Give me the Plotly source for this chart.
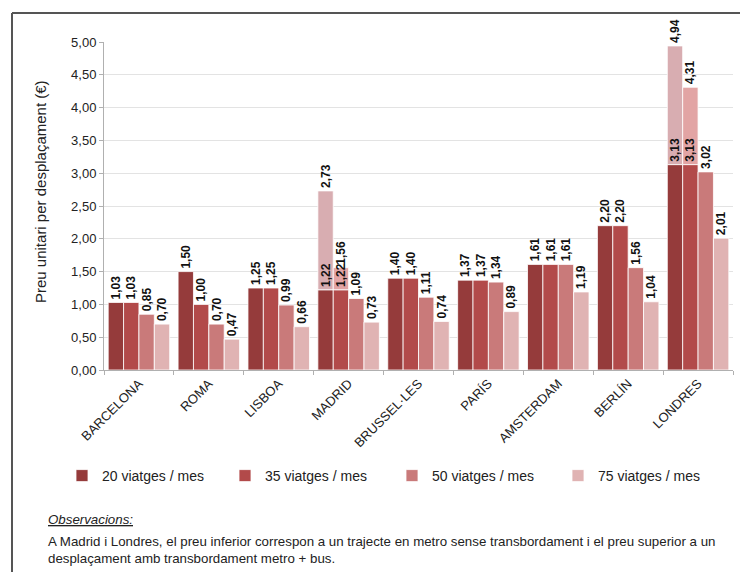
import plotly.graph_objects as go

cities = ["BARCELONA", "ROMA", "LISBOA", "MADRID", "BRUSSEL·LES", "PARÍS", "AMSTERDAM", "BERLÍN", "LONDRES"]
v20 = [1.03, 1.50, 1.25, 1.22, 1.40, 1.37, 1.61, 2.20, 3.13]
v35 = [1.03, 1.00, 1.25, 1.22, 1.40, 1.37, 1.61, 2.20, 3.13]
v50 = [0.85, 0.70, 0.99, 1.09, 1.11, 1.34, 1.61, 1.56, 3.02]
v75 = [0.70, 0.47, 0.66, 0.73, 0.74, 0.89, 1.19, 1.04, 2.01]
# upper price (with metro + bus transfer) for Madrid and Londres
up20 = [None, None, None, 2.73, None, None, None, None, 4.94]
up35 = [None, None, None, 1.56, None, None, None, None, 4.31]
series_names = ["20 viatges / mes", "35 viatges / mes", "50 viatges / mes", "75 viatges / mes"]

colors = ["#953b3b", "#b24a4a", "#c97a7a", "#e0b3b3"]
ext_colors = ["#d8adb1", "#e2a4a4"]

def fmt(v):
    return "" if v is None else f"{v:.2f}".replace(".", ",")

L, R, T, B = 104, 7, 42, 202
W, H = 740, 572
pw, ph = W - L - R, H - T - B
def px(x):
    return (x - L) / pw
def py(y):
    return (H - B - y) / ph

lab_font = dict(family="Liberation Sans, Arial", size=12, color="#111", weight="bold")
legend_names = ["legend", "legend2", "legend3", "legend4"]
legend_text_x = [102, 265, 432, 598]

fig = go.Figure()

# extension parts first so base labels are drawn above them
for i, (up, base) in enumerate([(up20, v20), (up35, v35)]):
    ext = [None if u is None else round(u - b, 2) for u, b in zip(up, base)]
    fig.add_trace(go.Bar(
        x=cities, y=ext, base=[b if u is not None else 0 for u, b in zip(up, base)],
        offsetgroup=f"g{i+1}", showlegend=False,
        marker=dict(color=ext_colors[i], line=dict(color="white", width=0.8)),
        text=[fmt(u) for u in up], textposition="outside", textangle=-90,
        textfont=lab_font, constraintext="none", cliponaxis=False, hoverinfo="skip",
    ))

for i, vals in enumerate([v20, v35, v50, v75]):
    fig.add_trace(go.Bar(
        x=cities, y=vals, name=series_names[i], offsetgroup=f"g{i+1}",
        legend=legend_names[i], showlegend=True,
        marker=dict(color=colors[i], line=dict(color="white", width=0.8)),
        text=[fmt(v) for v in vals], textposition="outside", textangle=-90,
        textfont=lab_font, constraintext="none", cliponaxis=False, hoverinfo="skip",
    ))

legend_common = dict(orientation="h", xanchor="left", yanchor="middle", y=py(476),
                     font=dict(size=14, color="#222"), itemwidth=30,
                     bgcolor="rgba(0,0,0,0)", borderwidth=0)
layout_legends = {}
for name, tx in zip(legend_names, legend_text_x):
    layout_legends[name] = dict(legend_common, x=px(tx - 40))

fig.update_layout(
    width=W, height=H,
    margin=dict(l=L, r=R, t=T, b=B, pad=0),
    paper_bgcolor="white", plot_bgcolor="white",
    barmode="group", bargap=0.12, bargroupgap=0.0,
    separators=",.",
    font=dict(family="Liberation Sans, Arial", color="#222"),
    showlegend=True,
    xaxis=dict(showline=True, linecolor="#b0b0b0", linewidth=1, ticks="outside",
               tickson="boundaries", ticklen=4, tickcolor="#b0b0b0", tickangle=-45,
               tickfont=dict(size=13, color="#222"), showgrid=False, fixedrange=True),
    yaxis=dict(range=[0, 5], dtick=0.5, tickformat=".2f", showline=True, linecolor="#b0b0b0",
               linewidth=1, ticks="outside", ticklen=4, tickcolor="#b0b0b0",
               showgrid=True, gridcolor="#e3e3e3", gridwidth=1, zeroline=False,
               tickfont=dict(size=13, color="#222"), fixedrange=True),
    **layout_legends,
)

fig.add_annotation(xref="paper", yref="paper", x=px(40), y=py(192), text="Preu unitari per desplaçament (€)",
                   textangle=-90, showarrow=False, font=dict(size=15, color="#222"),
                   xanchor="center", yanchor="middle")
fig.add_annotation(xref="paper", yref="paper", x=px(46), y=py(519), text="<i><u>Observacions:</u></i>",
                   showarrow=False, font=dict(size=13.3, color="#222"), xanchor="left", yanchor="middle")
fig.add_annotation(xref="paper", yref="paper", x=px(46), y=py(550),
                   text="A Madrid i Londres, el preu inferior correspon a un trajecte en metro sense transbordament i el preu superior a un<br>desplaçament amb transbordament metro + bus.",
                   showarrow=False, align="left", font=dict(size=13.3, color="#222"), xanchor="left", yanchor="middle")

# frame
fig.add_shape(type="line", xref="paper", yref="paper", x0=px(12), x1=px(12), y0=py(13), y1=py(580),
              line=dict(color="#555", width=2))
fig.add_shape(type="line", xref="paper", yref="paper", x0=px(12), x1=px(745), y0=py(13), y1=py(13),
              line=dict(color="#555", width=2))

fig.write_html("out.html")
